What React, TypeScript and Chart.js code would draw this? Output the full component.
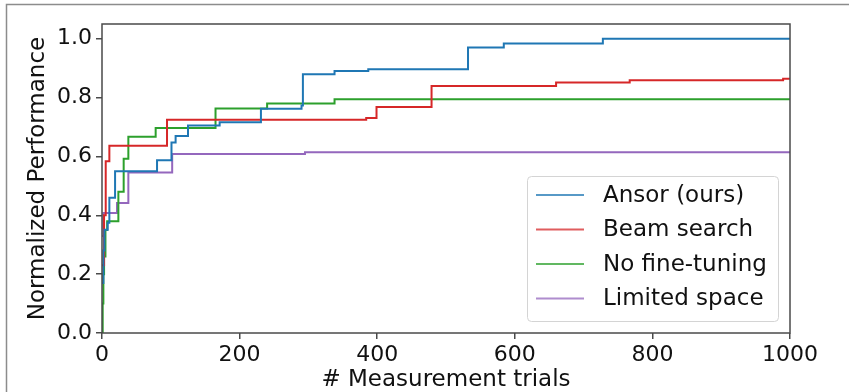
import React, { useEffect, useRef } from "react";
import { Chart, registerables } from "chart.js";

Chart.register(...registerables);

const seriesLabels = ["Ansor (ours)", "Beam search", "No fine-tuning", "Limited space"];
const seriesColors = ["#1f77b4", "#d62728", "#2ca02c", "#9467bd"];

const ansorX = [0, 2, 3.5, 8.3, 10.7, 19, 80, 101, 107, 125, 171, 231, 290, 292, 338, 387, 532, 584, 728, 1000];
const ansorY = [0.17, 0.28, 0.351, 0.375, 0.46, 0.55, 0.587, 0.647, 0.669, 0.705, 0.716, 0.762, 0.773, 0.879, 0.89, 0.896, 0.97, 0.984, 1.0, 1.0];

const beamX = [0, 3, 5.4, 10.7, 94.5, 384, 399, 479, 660, 767, 990, 1000];
const beamY = [0.23, 0.4, 0.584, 0.636, 0.725, 0.731, 0.768, 0.839, 0.851, 0.859, 0.864, 0.864];

const noFineX = [0, 1, 2, 3, 5, 7.5, 23.8, 31.5, 38.3, 78, 165, 240, 338, 1000];
const noFineY = [0, 0.1, 0.2, 0.26, 0.35, 0.38, 0.48, 0.592, 0.667, 0.697, 0.763, 0.78, 0.794, 0.794];

const limitedX = [0, 2, 21.8, 38.3, 102, 295, 1000];
const limitedY = [0.33, 0.408, 0.442, 0.545, 0.608, 0.614, 0.614];

const xTicks = [0, 200, 400, 600, 800, 1000];
const yTicks = [0, 0.2, 0.4, 0.6, 0.8, 1.0];
const xTitle = "# Measurement trials";
const yTitle = "Normalized Performance";

const FONT = "'DejaVu Sans', sans-serif";

const zip = (xs: number[], ys: number[]) => xs.map((x, i) => ({ x, y: ys[i] }));

const decorPlugin = {
  id: "decor",
  beforeDraw(chart: any) {
    const ctx = chart.ctx;
    ctx.save();
    ctx.fillStyle = "#ffffff";
    ctx.fillRect(0, 0, chart.width, chart.height);
    ctx.strokeStyle = "#8c8c8c";
    ctx.lineWidth = 1.5;
    ctx.beginPath();
    ctx.moveTo(6.5, chart.height);
    ctx.lineTo(6.5, 4.5);
    ctx.lineTo(chart.width, 4.5);
    ctx.stroke();
    ctx.restore();
  },
  afterDatasetsDraw(chart: any) {
    const ctx = chart.ctx;
    const { left, right, top, bottom } = chart.chartArea;
    ctx.save();
    ctx.strokeStyle = "#4a4a4a";
    ctx.lineWidth = 1.5;
    ctx.strokeRect(left, top, right - left, bottom - top);

    // legend
    const bx = 527.5, by = 176.5, bw = 251, bh = 145, r = 4;
    ctx.fillStyle = "rgba(255,255,255,0.85)";
    ctx.strokeStyle = "#d4d4d4";
    ctx.lineWidth = 1;
    ctx.beginPath();
    ctx.moveTo(bx + r, by);
    ctx.lineTo(bx + bw - r, by);
    ctx.quadraticCurveTo(bx + bw, by, bx + bw, by + r);
    ctx.lineTo(bx + bw, by + bh - r);
    ctx.quadraticCurveTo(bx + bw, by + bh, bx + bw - r, by + bh);
    ctx.lineTo(bx + r, by + bh);
    ctx.quadraticCurveTo(bx, by + bh, bx, by + bh - r);
    ctx.lineTo(bx, by + r);
    ctx.quadraticCurveTo(bx, by, bx + r, by);
    ctx.closePath();
    ctx.fill();
    ctx.stroke();

    const rowY = [195, 229.5, 264, 298.5];
    chart.data.datasets.forEach((ds: any, i: number) => {
      const y = rowY[i];
      ctx.strokeStyle = ds.borderColor;
      ctx.globalAlpha = 0.75;
      ctx.lineWidth = 2;
      ctx.beginPath();
      ctx.moveTo(536, y);
      ctx.lineTo(584, y);
      ctx.stroke();
      ctx.globalAlpha = 1;
      ctx.fillStyle = "#111";
      ctx.font = `23px ${FONT}`;
      ctx.textBaseline = "middle";
      ctx.textAlign = "left";
      ctx.fillText(ds.label, 603, y + 1);
    });
    ctx.restore();
  },
};

export default function App() {
  const ref = useRef<HTMLCanvasElement | null>(null);

  useEffect(() => {
    if (!ref.current) return;
    const datasets = [
      zip(ansorX, ansorY),
      zip(beamX, beamY),
      zip(noFineX, noFineY),
      zip(limitedX, limitedY),
    ].map((data, i) => ({
      label: seriesLabels[i],
      data,
      borderColor: seriesColors[i],
      backgroundColor: seriesColors[i],
      borderWidth: 2,
      pointRadius: 0,
      stepped: true as const,
      fill: false,
    }));

    const chart = new Chart(ref.current, {
      type: "line",
      data: { datasets },
      plugins: [decorPlugin],
      options: {
        animation: false,
        responsive: false,
        devicePixelRatio: 1,
        layout: { padding: { left: 0, right: 59, top: 24, bottom: 0 } },
        plugins: { legend: { display: false }, tooltip: { enabled: false } },
        scales: {
          x: {
            type: "linear",
            min: 0,
            max: 1000,
            afterBuildTicks: (s: any) => {
              s.ticks = xTicks.map((v) => ({ value: v }));
            },
            afterFit: (s: any) => {
              s.height = 59;
            },
            grid: { drawOnChartArea: false, drawTicks: true, tickLength: 6, color: "#4a4a4a", lineWidth: 1.5 },
            border: { display: false },
            ticks: {
              color: "#111",
              font: { family: FONT, size: 22 },
              padding: 3,
              maxRotation: 0,
              callback: (v: any) => String(v),
            },
            title: {
              display: true,
              text: xTitle,
              color: "#111",
              font: { family: FONT, size: 23, lineHeight: 1 },
              padding: { top: 0, bottom: 0.5 },
            },
          },
          y: {
            type: "linear",
            min: 0,
            max: 1.05,
            afterBuildTicks: (s: any) => {
              s.ticks = yTicks.map((v) => ({ value: v }));
            },
            afterFit: (s: any) => {
              s.width = 102;
            },
            grid: { drawOnChartArea: false, drawTicks: true, tickLength: 6, color: "#4a4a4a", lineWidth: 1.5 },
            border: { display: false },
            ticks: {
              color: "#111",
              font: { family: FONT, size: 22 },
              padding: 4,
              callback: (v: any) => Number(v).toFixed(1),
            },
            title: {
              display: true,
              text: yTitle,
              color: "#111",
              font: { family: FONT, size: 23, lineHeight: 1.2 },
              padding: { top: 24.5, bottom: 0 },
            },
          },
        },
      },
    });
    return () => chart.destroy();
  }, []);

  return (
    <div style={{ position: "fixed", left: 0, top: 0, width: 849, height: 392, background: "#fff" }}>
      <canvas ref={ref} width={849} height={392} style={{ display: "block", width: 849, height: 392 }} />
    </div>
  );
}
